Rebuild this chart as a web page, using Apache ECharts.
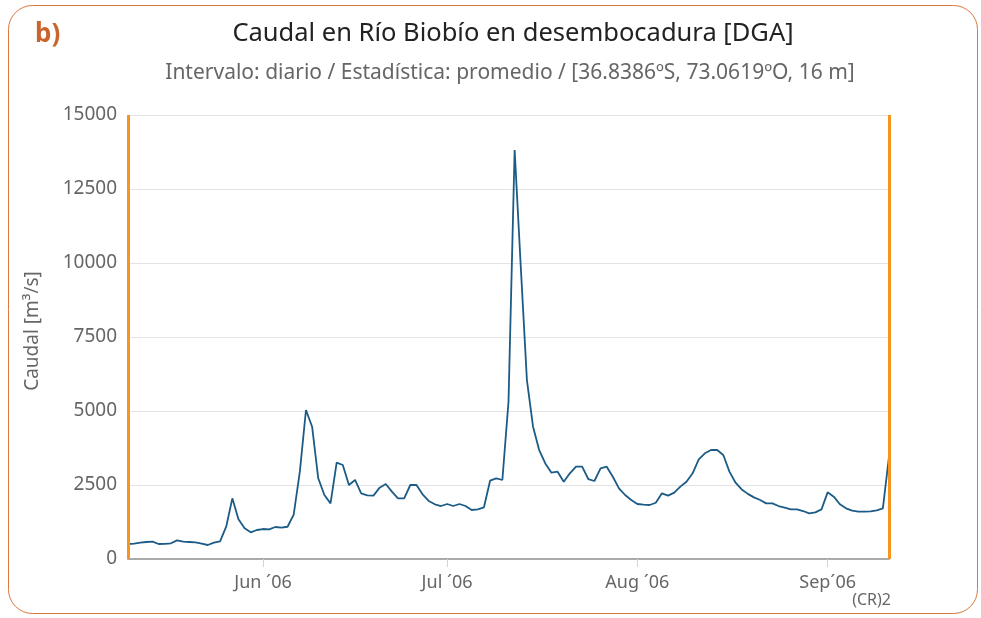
<!DOCTYPE html>
<html>
<head>
<meta charset="utf-8">
<script src="https://cdn.jsdelivr.net/npm/echarts@6/dist/echarts.min.js"></script>
<style>
html,body{margin:0;padding:0;background:#fff;}
#chart{width:981px;height:618px;}
</style>
</head>
<body>
<div id="chart"></div>
<script>
// Daily mean discharge, starting 2006-05-10
var startDate = '2006-05-10';
var values = [
  507, 520, 550, 574, 585, 507, 510, 530, 631, 590,
  575, 560, 520, 473, 552, 597, 1091, 2050, 1340, 1037,
  901, 980, 1013, 1003, 1081, 1058, 1090, 1500, 2950, 5034,
  4470, 2726, 2162, 1880, 3253, 3175, 2500, 2669, 2219, 2150,
  2140, 2410, 2534, 2275, 2050, 2050, 2500, 2500, 2185, 1960,
  1848, 1790, 1858, 1790, 1858, 1790, 1655, 1678, 1746, 2645,
  2726, 2669, 5314, 13815, 9875, 6047, 4470, 3682, 3230, 2916,
  2950, 2612, 2894, 3118, 3118, 2702, 2635, 3063, 3118, 2780,
  2388, 2162, 1993, 1858, 1835, 1824, 1900, 2219, 2140, 2241,
  2444, 2612, 2894, 3366, 3570, 3682, 3682, 3513, 2950, 2578,
  2350, 2200, 2083, 1993, 1880, 1880, 1790, 1734, 1678, 1678,
  1621, 1543, 1577, 1678, 2252, 2106, 1848, 1712, 1632, 1598,
  1598, 1610, 1640, 1712, 3456
];
var monthLabels = {
  '2006-06-01': 'Jun ´06',
  '2006-07-01': 'Jul ´06',
  '2006-08-01': 'Aug ´06',
  '2006-09-01': 'Sep´06'
};
var yTicks = [0, 2500, 5000, 7500, 10000, 12500, 15000];

var dates = [];
(function(){
  var p = startDate.split('-');
  var t0 = Date.UTC(+p[0], +p[1]-1, +p[2]);
  for (var i = 0; i < values.length; i++) {
    var d = new Date(t0 + i*86400000);
    var m = d.getUTCMonth()+1, dd = d.getUTCDate();
    dates.push(d.getUTCFullYear() + '-' + (m<10?'0':'') + m + '-' + (dd<10?'0':'') + dd);
  }
})();

var FONT = '"Noto Sans"';
var chart = echarts.init(document.getElementById('chart'));
var option = {
  animation: false,
  backgroundColor: '#fff',
  grid: {left: 128, right: 92, top: 115, bottom: 59, containLabel: false},
  graphic: [
    {type: 'rect', shape: {x: 8.5, y: 5.5, width: 969, height: 608, r: 24},
     style: {fill: 'none', stroke: '#d9773d', lineWidth: 1}, silent: true, z: -1},
    {type: 'text', x: 35, y: 35,
     style: {text: 'b)', font: 'bold 26px ' + FONT, fill: '#c9652c', textVerticalAlign: 'middle'}},
    {type: 'text', x: 513, y: 34,
     style: {text: 'Caudal en Río Biobío en desembocadura [DGA]', font: '25.5px ' + FONT, fill: '#222',
             textAlign: 'center', textVerticalAlign: 'middle'}},
    {type: 'text', x: 510, y: 73,
     style: {text: 'Intervalo: diario / Estadística: promedio / [36.8386ºS, 73.0619ºO, 16 m]', font: '21px ' + FONT, fill: '#666',
             textAlign: 'center', textVerticalAlign: 'middle'}},
    {type: 'text', x: 33, y: 331, rotation: Math.PI/2,
     style: {text: 'Caudal [m³/s]', font: '19px ' + FONT, fill: '#666',
             textAlign: 'center', textVerticalAlign: 'middle'}},
    {type: 'text', x: 891, y: 600,
     style: {text: '(CR)2', font: '16px ' + FONT, fill: '#666',
             textAlign: 'right', textVerticalAlign: 'middle'}}
  ],
  xAxis: {
    type: 'category',
    data: dates,
    boundaryGap: false,
    axisLine: {show: true, lineStyle: {color: '#aaa', width: 2}},
    axisTick: {show: true, length: 8, lineStyle: {color: '#ccd6eb', width: 1},
      interval: function(i, v){ return !!monthLabels[v]; }},
    axisLabel: {show: true, margin: 15, color: '#666', fontSize: 18, fontFamily: 'Noto Sans',
      interval: function(i, v){ return !!monthLabels[v]; },
      formatter: function(v){ return monthLabels[v] || ''; }},
    splitLine: {show: false}
  },
  yAxis: {
    type: 'value',
    min: yTicks[0], max: yTicks[yTicks.length-1], interval: 2500,
    axisLine: {show: false},
    axisTick: {show: false},
    axisLabel: {color: '#666', fontSize: 19, fontFamily: 'Noto Sans', margin: 11,
      formatter: function(v){ return String(v); }},
    splitLine: {lineStyle: {color: '#e3e3e3', width: 1}}
  },
  series: [{
    type: 'line',
    data: values,
    showSymbol: false,
    symbol: 'none',
    lineStyle: {color: '#1c5b86', width: 1.8},
    markLine: {
      silent: true, symbol: 'none', label: {show: false},
      lineStyle: {color: '#f7941d', width: 3, type: 'solid'},
      data: [{xAxis: dates[0]}, {xAxis: dates[dates.length-1]}]
    }
  }]
};
chart.setOption(option);
</script>
</body>
</html>
